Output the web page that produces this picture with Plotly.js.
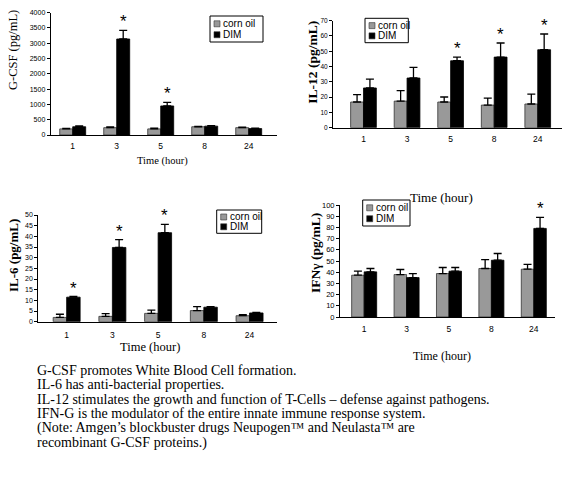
<!DOCTYPE html>
<html>
<head>
<meta charset="utf-8">
<script src="https://cdn.plot.ly/plotly-3.0.1.min.js"></script>
<style>
  html, body { margin: 0; padding: 0; background: #fff; }
  #chart { width: 567px; height: 477px; }
</style>
</head>
<body>
<div id="chart"></div>
<script>
// ---------- data ----------
const categories = ["1", "3", "5", "8", "24"];
const seriesNames = ["corn oil", "DIM"];

const gcsfCorn = [200, 240, 200, 270, 240];
const gcsfCornErr = [15, 25, 25, 15, 15];
const gcsfDim = [270, 3140, 950, 290, 210];
const gcsfDimErr = [25, 280, 120, 15, 15];
const gcsfSig = [false, true, true, false, false];

const il12Corn = [16.8, 17.4, 16.8, 14.8, 15.5];
const il12CornErr = [4.8, 6.8, 3.3, 4.6, 6.5];
const il12Dim = [26, 32.5, 43.8, 46.2, 51];
const il12DimErr = [5.8, 7, 2.4, 9.2, 10.3];
const il12Sig = [false, false, true, true, true];

const il6Corn = [2.0, 2.5, 3.9, 5.2, 2.8];
const il6CornErr = [1.5, 1.3, 1.5, 1.9, 0.5];
const il6Dim = [11.5, 34.8, 41.7, 6.8, 4.1];
const il6DimErr = [0.3, 3.7, 3.9, 0.3, 0.3];
const il6Sig = [true, true, true, false, false];

const ifnCorn = [37.3, 37.9, 38.8, 43.3, 42.7];
const ifnCornErr = [3.6, 4.5, 5.4, 8, 4.2];
const ifnDim = [40.3, 35.2, 40.9, 50.7, 79.1];
const ifnDimErr = [3, 3.6, 3.3, 6, 9.9];
const ifnSig = [false, false, false, false, true];

const yTitles = ["G-CSF (pg/mL)", "IL-12 (pg/mL)", "IL-6 (pg/mL)", "IFN\u03b3 (pg/mL)"];
const xTitle = "Time (hour)";
const noteLines = [
  "G-CSF promotes White Blood Cell formation.",
  "IL-6 has anti-bacterial properties.",
  "IL-12 stimulates the growth and function of T-Cells \u2013 defense against pathogens.",
  "IFN-G is the modulator of the entire innate immune response system.",
  "(Note: Amgen\u2019s blockbuster drugs Neupogen\u2122 and Neulasta\u2122 are",
  "recombinant G-CSF proteins.)"
];

// ---------- styling / layout ----------
const W = 567, H = 477;
const GRAY = "#999999", BLACK = "#000000";
const SERIF = "Liberation Serif, Times New Roman, serif";
const SANS = "Liberation Sans, Arial, sans-serif";
const px = x => x / W;
const py = y => 1 - y / H;

const panels = [
  { corn: gcsfCorn, cornErr: gcsfCornErr, dim: gcsfDim, dimErr: gcsfDimErr, sig: gcsfSig,
    x0: 50.7, x1: 276.7, y0: 12.7, y1: 135, xr: [-0.5, 4.636], yr: [0, 4000], dt: 500,
    yTitle: yTitles[0], yT: { x: 13, y: 50, size: 12.5, bold: false },
    xT: { x: 162, y: 161, size: 10.5 }, tickY: 7, tickX: 8.5, xStand: 3,
    leg: { x0: 210, y0: 16, x1: 263, y1: 42 } },
  { corn: il12Corn, cornErr: il12CornErr, dim: il12Dim, dimErr: il12DimErr, sig: il12Sig,
    x0: 333, x1: 561.7, y0: 20.7, y1: 127.7, xr: [-0.70, 4.55], yr: [0, 70], dt: 10,
    yTitle: yTitles[1], yT: { x: 311.7, y: 62, size: 13.5, bold: true },
    xT: { x: 441.7, y: 197, size: 13 }, tickY: 6.5, tickX: 8.5, xStand: 3,
    leg: { x0: 365, y0: 18.3, x1: 408.3, y1: 42.7 } },
  { corn: il6Corn, cornErr: il6CornErr, dim: il6Dim, dimErr: il6DimErr, sig: il6Sig,
    x0: 38.3, x1: 277, y0: 215, y1: 321.7, xr: [-0.62, 4.6], yr: [0, 50], dt: 5,
    yTitle: yTitles[2], yT: { x: 13, y: 256, size: 13, bold: true },
    xT: { x: 150, y: 347, size: 12.5 }, tickY: 7, tickX: 8.5, xStand: 5,
    leg: { x0: 216.7, y0: 210, x1: 261.7, y1: 233.3 } },
  { corn: ifnCorn, cornErr: ifnCornErr, dim: ifnDim, dimErr: ifnDimErr, sig: ifnSig,
    x0: 340, x1: 555, y0: 205, y1: 317, xr: [-0.57, 4.5], yr: [0, 100], dt: 10,
    yTitle: yTitles[3], yT: { x: 315, y: 253, size: 13.5, bold: true },
    xT: { x: 441.7, y: 356, size: 12 }, tickY: 7.5, tickX: 8.5, xStand: 4,
    leg: { x0: 362.7, y0: 200, x1: 410, y1: 226 } }
];

const traces = [];
const annotations = [];
const shapes = [];
const layout = {
  width: W, height: H,
  margin: { l: 0, r: 0, t: 0, b: 0, pad: 0 },
  paper_bgcolor: "#fff", plot_bgcolor: "#fff",
  barmode: "group", bargap: 0.41, bargroupgap: 0,
  showlegend: false,
  font: { family: SANS, color: "#000" }
};

panels.forEach((p, i) => {
  const n = i + 1;
  const xa = n === 1 ? "x" : "x" + n;
  const ya = n === 1 ? "y" : "y" + n;
  const zeros = p.corn.map(() => 0);
  traces.push({
    type: "bar", name: seriesNames[0], x: categories, y: p.corn, xaxis: xa, yaxis: ya,
    marker: { color: GRAY, line: { color: "#333", width: 0.8 } },
    error_y: { type: "data", symmetric: false, array: p.cornErr, arrayminus: zeros,
               color: "#000", thickness: 1.3, width: 4 },
    hoverinfo: "skip"
  });
  traces.push({
    type: "bar", name: seriesNames[1], x: categories, y: p.dim, xaxis: xa, yaxis: ya,
    marker: { color: BLACK, line: { color: "#000", width: 0.8 } },
    error_y: { type: "data", symmetric: false, array: p.dimErr, arrayminus: zeros,
               color: "#000", thickness: 1.3, width: 4 },
    hoverinfo: "skip"
  });

  layout["xaxis" + (n === 1 ? "" : n)] = {
    type: "category", domain: [px(p.x0), px(p.x1)], range: p.xr, anchor: ya,
    showline: true, linecolor: "#000", linewidth: 1, showgrid: false, zeroline: false,
    ticks: "", ticklabelstandoff: p.xStand, fixedrange: true,
    tickfont: { family: SANS, size: p.tickX, color: "#000" }
  };
  layout["yaxis" + (n === 1 ? "" : n)] = {
    domain: [py(p.y1), py(p.y0)], range: p.yr, anchor: xa,
    showline: true, linecolor: "#000", linewidth: 1, showgrid: false, zeroline: false,
    ticks: "outside", ticklen: 3, tickwidth: 1, tickcolor: "#000",
    tick0: 0, dtick: p.dt, fixedrange: true,
    tickfont: { family: SANS, size: p.tickY, color: "#000" }
  };

  // significance asterisks above DIM bars (x given as category index)
  const span = p.xr[1] - p.xr[0];
  const catPx = (p.x1 - p.x0) / span;
  const barShift = catPx * (1 - layout.bargap) / 4;
  p.sig.forEach((s, k) => {
    if (!s) return;
    annotations.push({
      xref: xa, yref: ya, x: k, y: p.dim[k] + p.dimErr[k],
      xshift: barShift, yshift: -3, yanchor: "bottom", xanchor: "center", showarrow: false,
      text: "*", font: { family: SANS, size: 17, color: "#000" }
    });
  });

  // axis titles
  annotations.push({
    xref: "paper", yref: "paper", x: px(p.yT.x), y: py(p.yT.y), textangle: -90,
    xanchor: "center", yanchor: "middle", showarrow: false,
    text: p.yT.bold ? "<b>" + p.yTitle + "</b>" : p.yTitle,
    font: { family: SERIF, size: p.yT.size, color: "#000" }
  });
  annotations.push({
    xref: "paper", yref: "paper", x: px(p.xT.x), y: py(p.xT.y),
    xanchor: "center", yanchor: "middle", showarrow: false, text: xTitle,
    font: { family: SERIF, size: p.xT.size, color: "#000" }
  });

  // legend box
  const L = p.leg;
  shapes.push({ type: "rect", xref: "paper", yref: "paper",
    x0: px(L.x0), x1: px(L.x1), y0: py(L.y1), y1: py(L.y0),
    line: { color: "#000", width: 1 }, fillcolor: "#fff", layer: "above" });
  const h = L.y1 - L.y0;
  [GRAY, BLACK].forEach((c, j) => {
    const cy = L.y0 + h * (j === 0 ? 0.3 : 0.72);
    shapes.push({ type: "rect", xref: "paper", yref: "paper",
      x0: px(L.x0 + 4), x1: px(L.x0 + 10), y0: py(cy + 3), y1: py(cy - 3),
      line: { color: "#333", width: 0.6 }, fillcolor: c, layer: "above" });
    annotations.push({
      xref: "paper", yref: "paper", x: px(L.x0 + 11), y: py(cy),
      xanchor: "left", yanchor: "middle", showarrow: false, text: seriesNames[j],
      font: { family: SANS, size: 10, color: "#000" }
    });
  });
});

// note text block
const noteY = [370, 384.5, 399, 413.5, 428, 442.5];
noteLines.forEach((t, i) => {
  annotations.push({
    xref: "paper", yref: "paper", x: px(35), y: py(noteY[i]),
    xanchor: "left", yanchor: "middle", showarrow: false, text: t,
    font: { family: SERIF, size: 14, color: "#000" }
  });
});

layout.annotations = annotations;
layout.shapes = shapes;

Plotly.newPlot("chart", traces, layout, { staticPlot: true, displayModeBar: false });
</script>
</body>
</html>
